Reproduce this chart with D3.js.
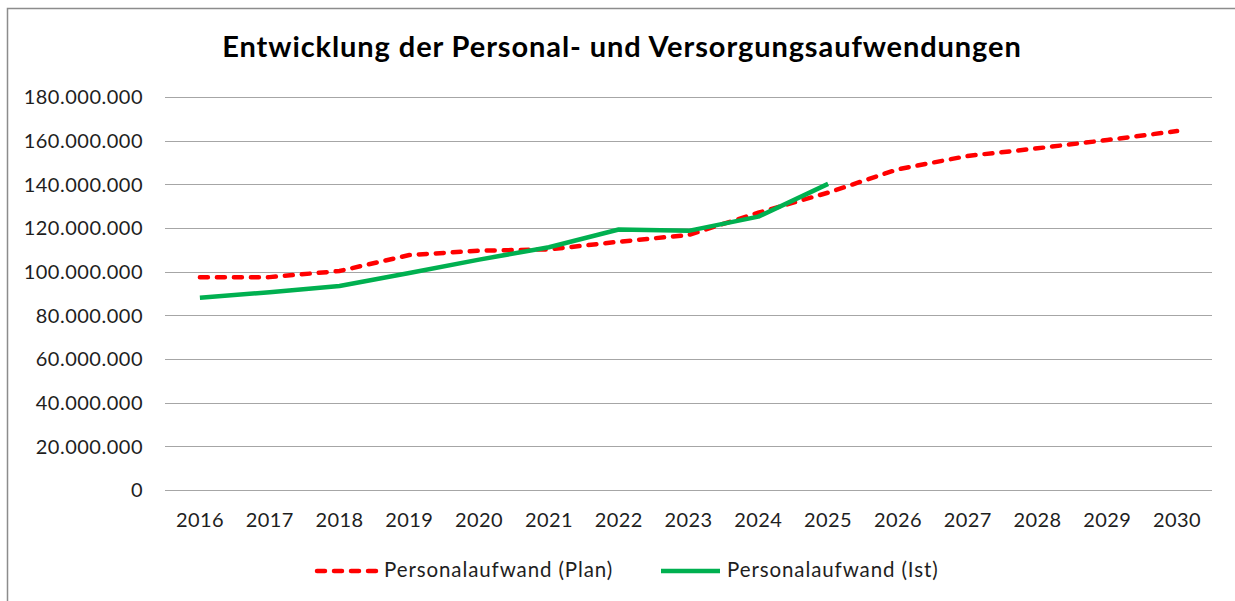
<!DOCTYPE html>
<html>
<head>
<meta charset="utf-8">
<script src="https://cdn.jsdelivr.net/npm/d3@7"></script>
<style>
  body { margin: 0; background: #fff; }
  text { font-family: Lato, "Open Sans", sans-serif; fill: #1e1e1e; }
</style>
</head>
<body>
<svg width="1235" height="601"></svg>
<script>
const years = [2016, 2017, 2018, 2019, 2020, 2021, 2022, 2023, 2024, 2025, 2026, 2027, 2028, 2029, 2030];
const planValues = [97.4, 97.5, 100.3, 107.6, 109.6, 110.2, 113.7, 116.8, 127.0, 136.2, 146.9, 153.0, 156.5, 160.3, 164.4];
const istValues = [88.1, 90.6, 93.4, 99.4, 105.5, 111.2, 119.3, 118.7, 125.2, 140.2];
const yTicks = [0, 20, 40, 60, 80, 100, 120, 140, 160, 180];
const seriesNames = ["Personalaufwand (Plan)", "Personalaufwand (Ist)"];

const svg = d3.select("svg");

// chart frame
svg.append("rect")
  .attr("x", 7.5).attr("y", 8.5)
  .attr("width", 1400).attr("height", 800)
  .attr("fill", "none")
  .attr("stroke", "#8c8c8c")
  .attr("stroke-width", 1.5);

svg.append("text")
  .attr("x", 622).attr("y", 57)
  .attr("text-anchor", "middle")
  .attr("font-size", 29)
  .attr("font-weight", "bold")
  .attr("letter-spacing", 0.9)
  .style("fill", "#000")
  .text("Entwicklung der Personal- und Versorgungsaufwendungen");

const x = d3.scaleBand().domain(years).range([165, 1212]);
const y = d3.scaleLinear().domain([0, 180]).range([490, 97]);

const fmt = (v) => v === 0 ? "0" : d3.format(",")(v * 1000000).replace(/,/g, ".");

// grid
svg.append("g")
  .selectAll("line")
  .data(yTicks)
  .join("line")
  .attr("x1", 165).attr("x2", 1212)
  .attr("y1", (d) => Math.round(y(d)) + 0.5)
  .attr("y2", (d) => Math.round(y(d)) + 0.5)
  .attr("stroke", "#a6a6a6")
  .attr("stroke-width", 1);

// y labels
svg.append("g")
  .selectAll("text")
  .data(yTicks)
  .join("text")
  .attr("x", 143)
  .attr("y", (d) => y(d))
  .attr("dy", "0.36em")
  .attr("text-anchor", "end")
  .attr("font-size", 20)
  .attr("letter-spacing", 0.5)
  .text(fmt);

// x labels
svg.append("g")
  .selectAll("text")
  .data(years)
  .join("text")
  .attr("x", (d) => x(d) + x.bandwidth() / 2)
  .attr("y", 527)
  .attr("text-anchor", "middle")
  .attr("font-size", 20)
  .attr("letter-spacing", 0.4)
  .text((d) => d);

const line = d3.line()
  .x((d, i) => x(years[i]) + x.bandwidth() / 2)
  .y((d) => y(d));

svg.append("path")
  .attr("d", line(planValues))
  .attr("fill", "none")
  .attr("stroke", "#ff0000")
  .attr("stroke-width", 4.5)
  .attr("stroke-linecap", "round")
  .attr("stroke-dasharray", "8,9");

svg.append("path")
  .attr("d", line(istValues))
  .attr("fill", "none")
  .attr("stroke", "#00b050")
  .attr("stroke-width", 4.5)
  .attr("stroke-linejoin", "round");

// legend
const legend = svg.append("g");
legend.append("line")
  .attr("x1", 317).attr("x2", 378).attr("y1", 571).attr("y2", 571)
  .attr("stroke", "#ff0000").attr("stroke-width", 4.5)
  .attr("stroke-linecap", "round").attr("stroke-dasharray", "8,9");
legend.append("text")
  .attr("x", 384).attr("y", 577)
  .attr("font-size", 20.5)
  .attr("letter-spacing", 0.9)
  .text(seriesNames[0]);
legend.append("line")
  .attr("x1", 661).attr("x2", 720).attr("y1", 571).attr("y2", 571)
  .attr("stroke", "#00b050").attr("stroke-width", 4.5);
legend.append("text")
  .attr("x", 727).attr("y", 577)
  .attr("font-size", 20.5)
  .attr("letter-spacing", 0.9)
  .text(seriesNames[1]);
</script>
</body>
</html>
